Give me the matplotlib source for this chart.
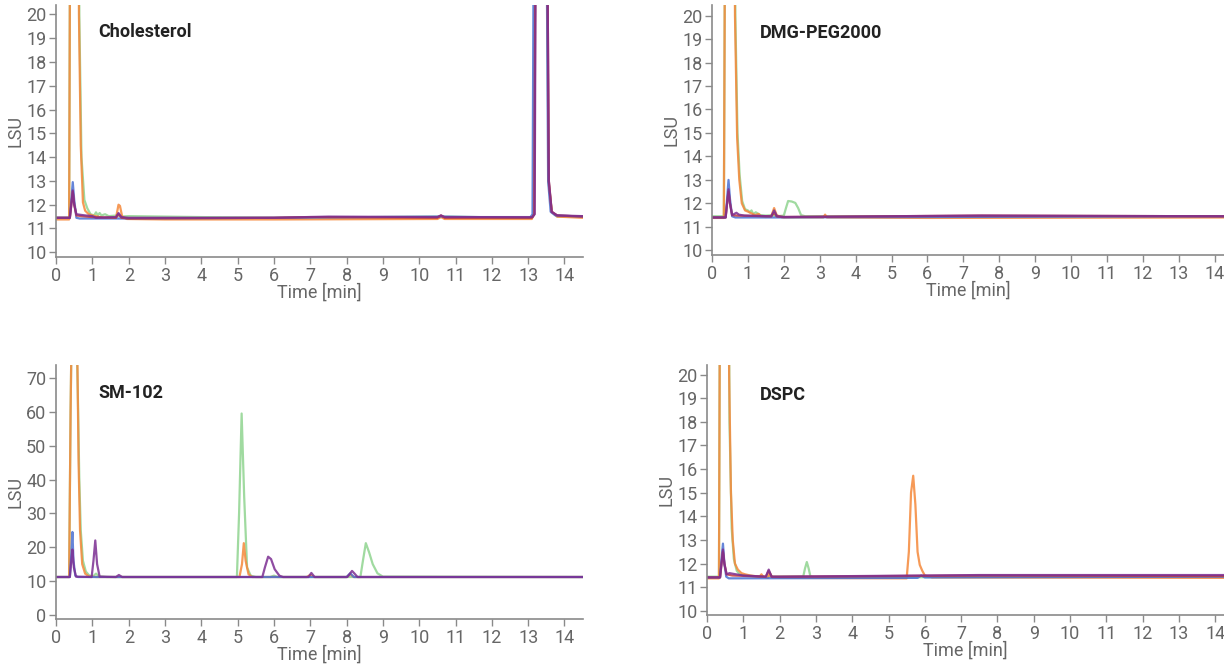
import matplotlib
matplotlib.use("Agg")
import matplotlib.pyplot as plt

plt.rcParams['font.family'] = ['Roboto', 'DejaVu Sans']

# trace colours, drawn in this order (purple ends up on top)
colors = {
    'green': '#8fd48f',
    'orange': '#f5883a',
    'blue': '#4a70d2',
    'red': '#c33b3b',
    'purple': '#7c2e92',
}
trace_order = ['green', 'orange', 'blue', 'red', 'purple']

# ---- Cholesterol ----
chol_orange_t = [0, 0.36, 0.40, 0.48, 0.58, 0.63, 0.68, 0.74, 0.80, 0.90, 1.00, 1.30, 1.65, 1.72, 1.76, 1.82, 1.95, 3.0, 6.0, 10.5, 10.6, 10.7, 13.10, 13.16, 13.25, 13.40, 13.50, 13.56, 13.65, 13.80, 14.5]
chol_orange_y = [11.38, 11.38, 30, 80, 45, 20, 14.5, 12.1, 11.75, 11.6, 11.55, 11.45, 11.45, 12.0, 11.95, 11.5, 11.4, 11.38, 11.38, 11.4, 11.48, 11.4, 11.4, 11.6, 40, 80, 30, 13.0, 11.7, 11.5, 11.45]
chol_green_t = [0, 0.36, 0.40, 0.48, 0.58, 0.64, 0.70, 0.78, 0.86, 0.95, 1.05, 1.10, 1.15, 1.20, 1.25, 1.35, 1.45, 1.72, 1.78, 2.0, 4.0, 6.0, 10.6, 13.10, 13.16, 13.25, 13.40, 13.50, 13.56, 13.65, 13.80, 14.5]
chol_green_y = [11.45, 11.45, 30, 80, 45, 20, 14.0, 12.2, 11.85, 11.6, 11.55, 11.68, 11.55, 11.65, 11.55, 11.6, 11.52, 11.55, 11.5, 11.52, 11.48, 11.45, 11.5, 11.45, 11.6, 40, 80, 30, 13.0, 11.7, 11.5, 11.5]
chol_blue_t = [0, 0.38, 0.42, 0.46, 0.50, 0.56, 0.65, 2.0, 6.0, 10.6, 13.05, 13.12, 13.20, 13.35, 13.48, 13.55, 13.62, 13.75, 14.5]
chol_blue_y = [11.45, 11.45, 12.2, 12.95, 12.2, 11.45, 11.42, 11.42, 11.45, 11.5, 11.45, 11.6, 40, 80, 30, 13.0, 11.7, 11.55, 11.5]
chol_red_t = [0, 0.38, 0.42, 0.46, 0.50, 0.56, 0.7, 1.0, 1.65, 1.72, 1.80, 2.0, 6.0, 7.0, 10.5, 10.6, 10.7, 13.10, 13.17, 13.25, 13.40, 13.50, 13.57, 13.65, 13.80, 14.5]
chol_red_y = [11.45, 11.45, 12.0, 12.55, 12.0, 11.55, 11.52, 11.48, 11.45, 11.6, 11.45, 11.42, 11.45, 11.48, 11.45, 11.55, 11.45, 11.45, 11.6, 40, 80, 30, 13.0, 11.7, 11.55, 11.5]
chol_purple_t = [0, 0.38, 0.42, 0.46, 0.50, 0.56, 0.65, 0.8, 1.0, 1.1, 1.65, 1.72, 1.80, 2.0, 6.0, 7.5, 10.5, 10.6, 10.7, 13.12, 13.18, 13.25, 13.40, 13.50, 13.57, 13.65, 13.80, 14.5]
chol_purple_y = [11.45, 11.45, 12.0, 12.6, 12.0, 11.6, 11.58, 11.55, 11.52, 11.45, 11.48, 11.65, 11.48, 11.45, 11.45, 11.5, 11.48, 11.55, 11.48, 11.48, 11.6, 40, 80, 30, 13.0, 11.7, 11.55, 11.52]

# ---- DMG-PEG2000 ----
dmg_orange_t = [0, 0.33, 0.38, 0.46, 0.56, 0.64, 0.70, 0.76, 0.83, 0.92, 1.00, 1.2, 1.3, 1.36, 1.5, 1.65, 1.73, 1.80, 1.95, 3.10, 3.15, 3.20, 6.0, 14.3]
dmg_orange_y = [11.38, 11.38, 30, 80, 45, 20, 14.8, 13.0, 12.0, 11.7, 11.65, 11.5, 11.55, 11.45, 11.42, 11.45, 11.8, 11.5, 11.4, 11.4, 11.52, 11.4, 11.38, 11.4]
dmg_green_t = [0, 0.33, 0.38, 0.46, 0.56, 0.65, 0.71, 0.77, 0.84, 0.92, 1.0, 1.05, 1.1, 1.15, 1.22, 1.35, 1.5, 1.72, 1.8, 2.0, 2.06, 2.12, 2.22, 2.32, 2.40, 2.48, 2.6, 6.0, 14.3]
dmg_green_y = [11.45, 11.45, 30, 80, 45, 20, 15.0, 13.2, 12.1, 11.75, 11.7, 11.62, 11.7, 11.55, 11.62, 11.5, 11.48, 11.5, 11.45, 11.48, 11.8, 12.1, 12.08, 12.02, 11.8, 11.5, 11.45, 11.45, 11.45]
dmg_blue_t = [0, 0.38, 0.42, 0.46, 0.50, 0.56, 0.65, 2.0, 6.0, 14.3]
dmg_blue_y = [11.4, 11.4, 12.2, 13.0, 12.2, 11.45, 11.4, 11.4, 11.42, 11.45]
dmg_red_t = [0, 0.38, 0.42, 0.46, 0.50, 0.56, 0.7, 1.65, 1.73, 1.80, 2.0, 7.5, 14.3]
dmg_red_y = [11.4, 11.4, 12.0, 12.5, 12.0, 11.5, 11.48, 11.45, 11.6, 11.45, 11.42, 11.48, 11.45]
dmg_purple_t = [0, 0.38, 0.42, 0.46, 0.50, 0.56, 0.62, 0.68, 0.75, 0.9, 1.65, 1.73, 1.81, 2.0, 7.5, 14.3]
dmg_purple_y = [11.4, 11.4, 12.0, 12.6, 12.0, 11.5, 11.55, 11.6, 11.52, 11.48, 11.45, 11.7, 11.45, 11.42, 11.48, 11.45]

# ---- SM-102 ----
sm_orange_t = [0, 0.36, 0.40, 0.47, 0.55, 0.59, 0.62, 0.66, 0.72, 0.80, 0.90, 1.1, 5.05, 5.12, 5.17, 5.22, 5.30, 5.40, 6.9, 7.0, 7.1, 8.0, 8.1, 8.2, 14.5]
sm_orange_y = [11.2, 11.2, 60, 120, 90, 73, 45, 25, 15, 12.2, 11.4, 11.2, 11.2, 15, 21.2, 16, 12, 11.2, 11.2, 11.8, 11.2, 11.2, 12.0, 11.2, 11.2]
sm_green_t = [0, 0.36, 0.40, 0.47, 0.55, 0.60, 0.64, 0.68, 0.74, 0.82, 0.92, 1.02, 1.10, 1.18, 1.4, 4.98, 5.04, 5.11, 5.18, 5.26, 5.36, 5.5, 5.9, 6.0, 6.1, 8.38, 8.45, 8.53, 8.62, 8.72, 8.85, 9.0, 14.5]
sm_green_y = [11.2, 11.2, 60, 120, 90, 65, 40, 25, 16, 12.8, 11.6, 11.4, 12.2, 11.4, 11.2, 11.2, 30, 59.5, 35, 14, 11.6, 11.2, 11.2, 11.6, 11.2, 11.2, 16, 21.2, 18.5, 15, 12.3, 11.3, 11.2]
sm_blue_t = [0, 0.38, 0.42, 0.45, 0.48, 0.53, 0.6, 8.0, 8.1, 8.2, 14.5]
sm_blue_y = [11.2, 11.2, 18, 24.5, 16, 11.6, 11.2, 11.2, 12.3, 11.2, 11.2]
sm_purple_t = [0, 0.38, 0.42, 0.45, 0.49, 0.55, 0.98, 1.03, 1.08, 1.13, 1.2, 1.65, 1.73, 1.82, 5.68, 5.75, 5.84, 5.92, 6.02, 6.15, 6.25, 6.95, 7.03, 7.12, 8.02, 8.10, 8.15, 8.22, 8.3, 14.5]
sm_purple_y = [11.2, 11.2, 16, 19.3, 14, 11.3, 11.2, 16, 22, 15, 11.3, 11.2, 11.8, 11.2, 11.2, 14, 17.2, 16.5, 13.5, 11.6, 11.2, 11.2, 12.4, 11.2, 11.2, 12.3, 13.0, 12.2, 11.2, 11.2]

# ---- DSPC ----
dspc_orange_t = [0, 0.33, 0.37, 0.45, 0.54, 0.61, 0.66, 0.71, 0.77, 0.85, 0.95, 1.05, 1.2, 1.45, 1.5, 1.55, 1.68, 1.73, 1.8, 2.0, 5.50, 5.56, 5.62, 5.68, 5.74, 5.80, 5.86, 5.93, 6.0, 6.2, 14.24]
dspc_orange_y = [11.38, 11.38, 30, 80, 45, 20, 15.0, 13.0, 12.0, 11.75, 11.6, 11.55, 11.5, 11.45, 11.55, 11.45, 11.4, 11.6, 11.42, 11.4, 11.38, 12.5, 15.0, 15.72, 14.5, 12.5, 11.95, 11.7, 11.5, 11.42, 11.4]
dspc_green_t = [0, 0.33, 0.37, 0.45, 0.54, 0.62, 0.68, 0.74, 0.82, 0.9, 1.0, 1.5, 2.65, 2.70, 2.75, 2.80, 2.85, 3.0, 14.24]
dspc_green_y = [11.45, 11.45, 30, 80, 45, 18, 13.5, 12.2, 11.7, 11.55, 11.5, 11.45, 11.45, 11.8, 12.07, 11.8, 11.45, 11.42, 11.45]
dspc_blue_t = [0, 0.36, 0.40, 0.44, 0.48, 0.53, 0.6, 5.8, 5.9, 6.0, 14.24]
dspc_blue_y = [11.42, 11.42, 12.2, 12.85, 12.0, 11.45, 11.38, 11.4, 11.5, 11.42, 11.45]
dspc_red_t = [0, 0.36, 0.40, 0.44, 0.48, 0.54, 0.7, 1.62, 1.70, 1.78, 2.0, 7.5, 14.24]
dspc_red_y = [11.42, 11.42, 12.0, 12.5, 12.0, 11.55, 11.5, 11.45, 11.7, 11.45, 11.45, 11.5, 11.48]
dspc_purple_t = [0, 0.36, 0.40, 0.44, 0.48, 0.54, 0.62, 0.8, 1.0, 1.62, 1.70, 1.78, 2.0, 7.5, 14.24]
dspc_purple_y = [11.42, 11.42, 12.0, 12.6, 12.0, 11.55, 11.6, 11.55, 11.5, 11.45, 11.75, 11.45, 11.45, 11.52, 11.52]

x_ticks = list(range(0, 15))
lsu_ticks_small = list(range(10, 21))
lsu_ticks_sm = list(range(0, 71, 10))

panels = [
    dict(name='Cholesterol', rect=[0.0458, 0.6135, 0.4302, 0.379], xlim=(0, 14.5), ylim=(9.8, 20.4),
         yticks=lsu_ticks_small, title_xy=(0.080, 0.893),
         traces={'green': (chol_green_t, chol_green_y), 'orange': (chol_orange_t, chol_orange_y),
                 'blue': (chol_blue_t, chol_blue_y), 'red': (chol_red_t, chol_red_y),
                 'purple': (chol_purple_t, chol_purple_y)}),
    dict(name='DMG-PEG2000', rect=[0.5817, 0.6165, 0.4183, 0.376], xlim=(0, 14.26), ylim=(9.8, 20.45),
         yticks=lsu_ticks_small, title_xy=(0.094, 0.888),
         traces={'green': (dmg_green_t, dmg_green_y), 'orange': (dmg_orange_t, dmg_orange_y),
                 'blue': (dmg_blue_t, dmg_blue_y), 'red': (dmg_red_t, dmg_red_y),
                 'purple': (dmg_purple_t, dmg_purple_y)}),
    dict(name='SM-102', rect=[0.0458, 0.0692, 0.4302, 0.3818], xlim=(0, 14.5), ylim=(-1.2, 73.8),
         yticks=lsu_ticks_sm, title_xy=(0.080, 0.89),
         traces={'green': (sm_green_t, sm_green_y), 'orange': (sm_orange_t, sm_orange_y),
                 'blue': (sm_blue_t, sm_blue_y), 'purple': (sm_purple_t, sm_purple_y)}),
    dict(name='DSPC', rect=[0.5776, 0.0752, 0.4224, 0.3758], xlim=(0, 14.24), ylim=(9.83, 20.4),
         yticks=lsu_ticks_small, title_xy=(0.1025, 0.88),
         traces={'green': (dspc_green_t, dspc_green_y), 'orange': (dspc_orange_t, dspc_orange_y),
                 'blue': (dspc_blue_t, dspc_blue_y), 'red': (dspc_red_t, dspc_red_y),
                 'purple': (dspc_purple_t, dspc_purple_y)}),
]

fig = plt.figure(figsize=(12.24, 6.65), dpi=100)

for p in panels:
    ax = fig.add_axes(p['rect'])
    for key in trace_order:
        if key in p['traces']:
            t, y = p['traces'][key]
            ax.plot(t, y, color=colors[key], lw=1.6, alpha=0.85, solid_joinstyle='round')
    ax.set_xlim(*p['xlim'])
    ax.set_ylim(*p['ylim'])
    ax.set_xticks(x_ticks)
    ax.set_yticks(p['yticks'])
    for side in ['top', 'right']:
        ax.spines[side].set_visible(False)
    for side in ['left', 'bottom']:
        ax.spines[side].set_color('#8a8a8a')
        ax.spines[side].set_linewidth(1.2)
    ax.tick_params(direction='out', length=5, width=1, color='#8a8a8a',
                   labelcolor='#666666', labelsize=13, pad=2)
    ax.set_xlabel('Time [min]', fontsize=13, color='#666666', labelpad=-1)
    ax.set_ylabel('LSU', fontsize=13, color='#666666', labelpad=1)
    ax.text(p['title_xy'][0], p['title_xy'][1], p['name'], transform=ax.transAxes,
            fontsize=13, fontweight='bold', color='#222222', va='center', ha='left')

fig.savefig('out.png', dpi=100)
